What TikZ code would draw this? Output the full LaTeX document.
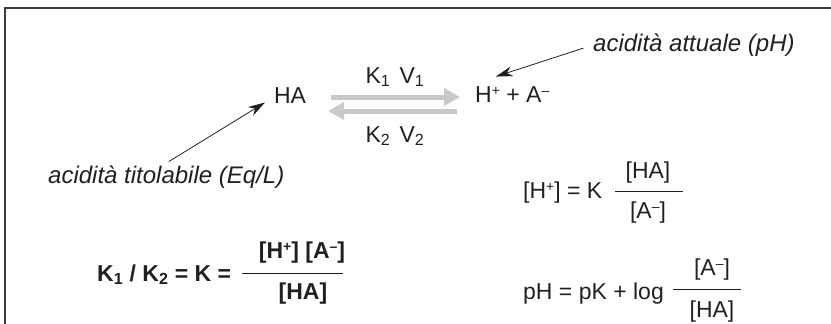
\documentclass[tikz,border=0pt]{standalone}
\usepackage{fontspec}
\setmainfont{Liberation Sans}
\usetikzlibrary{arrows.meta,calc}

\definecolor{ink}{HTML}{231F20}
\definecolor{arrowgray}{HTML}{C8C9CA}
\definecolor{framegray}{HTML}{3C3C3C}

% charge sign, kept at cap height
\newcommand{\charge}[1]{\raisebox{0.3em}{\fontsize{14}{14}\selectfont #1}}

\begin{document}
\begin{tikzpicture}[x=1pt, y=-1pt,
    chem/.style={font=\fontsize{23}{26}\selectfont, text=ink, inner sep=2pt},
    boldeq/.style={chem, font=\fontsize{23}{26}\selectfont\bfseries},
    note/.style={font=\fontsize{24}{28}\selectfont\itshape, text=ink, inner sep=2pt},
    react/.style={line width=5pt, draw=arrowgray, -{Triangle[length=16pt,width=17pt]}},
    pointer/.style={line width=0.8pt, draw=ink, -{Stealth[length=17pt,width=10pt]}},
    fracbar/.style={line width=0.9pt, draw=ink},
    frame/.style={line width=1.6pt, draw=framegray}
]
    \useasboundingbox (0,0) rectangle (831,324);

    % Open frame (top and left side)
    \draw[frame] (831,8) -- (5,8) -- (5,324);

    % Equilibrium
    \node[chem, anchor=base] (ha) at (290,103) {HA};
    \node[chem, anchor=base west] (prod) at (473,102) {H\charge{+} + A\charge{--}};
    \node[chem, anchor=base] (k1) at (395,83) {K\textsubscript{1}\hspace{0.4em}V\textsubscript{1}};
    \node[chem, anchor=base] (k2) at (395,142) {K\textsubscript{2}\hspace{0.4em}V\textsubscript{2}};

    \draw[react, shorten <=23pt, shorten >=13pt] (ha.east |- 0,97) -- (prod.west |- 0,97);
    \draw[react, shorten <=16pt, shorten >=20pt] (prod.west |- 0,111) -- (ha.east |- 0,111);

    % Notes with pointers
    \node[note, anchor=base west] (attuale) at (591,52) {acidità attuale (pH)};
    \node[note, anchor=base west] (titol) at (46,183) {acidità titolabile (Eq/L)};

    \draw[pointer, shorten <=8pt, shorten >=24pt] (attuale.west) -- (prod.north west);
    \draw[pointer, shorten <=3pt, shorten >=8pt] (titol.north) -- (ha.190);

    % [H+] = K [HA]/[A-]
    \node[chem, anchor=base west] (hlhs) at (521,198) {[H\charge{+}] = K};
    \node[chem, anchor=base] (hnum) at (648,178) {[HA]};
    \node[chem, anchor=base] (hden) at (648,218) {[A\charge{--}]};
    \draw[fracbar] (615,191) -- (683,191);

    % pH = pK + log [A-]/[HA]
    \node[chem, anchor=base west] (plhs) at (521,299) {pH = pK + log};
    \node[chem, anchor=base] (pnum) at (712,275) {[A\charge{--}]};
    \node[chem, anchor=base] (pden) at (712,317) {[HA]};
    \draw[fracbar] (673,289) -- (741,289);

    % K1 / K2 = K
    \node[boldeq, anchor=base west] (klhs) at (95,281) {K\textsubscript{1} / K\textsubscript{2} = K =};
    \node[boldeq, anchor=base] (knum) at (302,258) {[H\charge{+}] [A\charge{--}]};
    \node[boldeq, anchor=base] (kden) at (303,299) {[HA]};
    \draw[fracbar] (242,273) -- (343,273);
\end{tikzpicture}
\end{document}
